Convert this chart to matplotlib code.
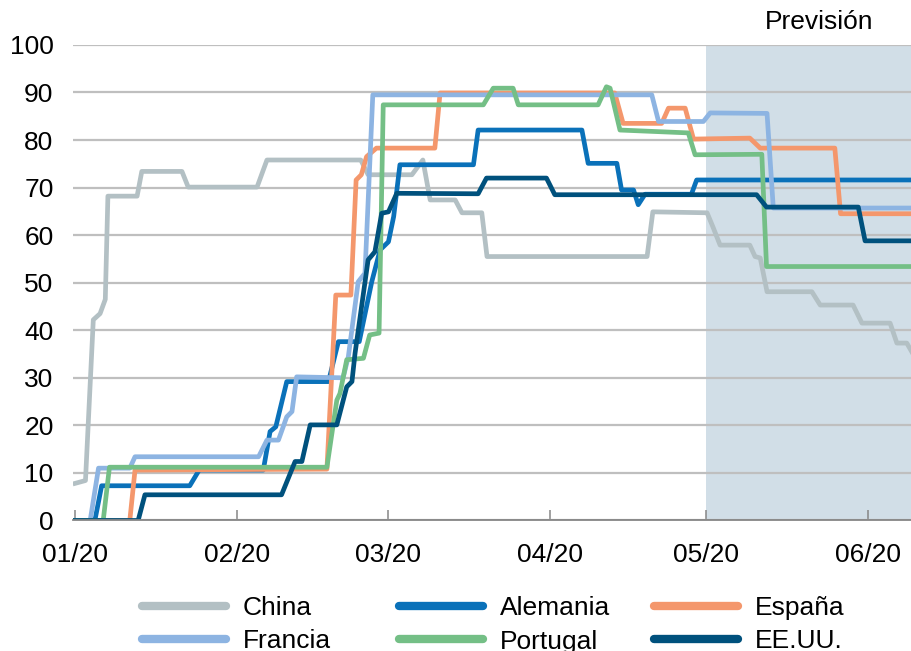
import matplotlib
matplotlib.use("Agg")
import matplotlib.pyplot as plt

plt.rcParams['font.family'] = ['Liberation Sans', 'DejaVu Sans']

# days since 01/01/2020 and index values
china_d = [0, 2, 3.5, 4.8, 5.8, 6.3, 11.9, 12.8, 20.5, 21.7, 34.9, 36.8, 54.8, 56.2, 64.6, 66.7, 68.1,
           72.9, 74.2, 78, 79, 109.7, 110.8, 121.2, 122.3, 123.7, 129.4, 130.4, 131.4, 132.7, 141.3,
           142.9, 149.2, 150.9, 156.3, 157.6, 159.5, 160.6]
china_v = [7.8, 8.4, 42.2, 43.5, 46.5, 68.2, 68.2, 73.4, 73.4, 70.1, 70.1, 75.8, 75.8, 72.7, 72.7, 75.8, 67.4,
           67.4, 64.7, 64.7, 55.5, 55.5, 64.9, 64.7, 61.8, 57.9, 57.9, 55.5, 55.2, 48.1, 48.1,
           45.3, 45.3, 41.5, 41.5, 37.3, 37.3, 35.2]

francia_d = [0, 2.9, 4.5, 10.5, 11.5, 35.2, 36.8, 39, 40.6, 41.6, 42.5, 51.4, 52.4, 54.3, 55.6, 57.1,
             110.6, 111.9, 120.5, 121.8, 132.7, 133.9, 160.6]
francia_v = [0, 0, 11, 11, 13.4, 13.4, 16.9, 16.9, 21.8, 22.9, 30.2, 30, 34.4, 50.2, 52, 89.5,
             89.5, 83.9, 83.9, 85.7, 85.6, 65.7, 65.7]

alemania_d = [0, 3.8, 5.1, 22, 23.8, 36.1, 37.4, 38.5, 40.6, 48.6, 50.5, 54.5, 56.9, 58.5, 60.1, 61.1, 62.3,
              76.4, 77.3, 97.2, 98.4, 103.9, 104.8, 107.1, 108, 109.3, 118.2, 119.2, 160.6]
alemania_v = [0, 0, 7.3, 7.3, 10.6, 10.6, 18.7, 19.7, 29.2, 29.2, 37.6, 37.6, 50.2, 56.9, 58.6, 63.9, 74.8,
              74.8, 82.1, 82.1, 75.1, 75.1, 69.5, 69.5, 66.4, 68.6, 68.6, 71.6, 71.6]

espana_d = [0, 10.5, 11.5, 48.3, 50, 52.9, 53.9, 54.9, 55.9, 57.8, 69, 70, 103.5, 105.1, 112.5, 113.8,
            117, 118.6, 129.4, 131.4, 145.7, 146.8, 160.6]
espana_v = [0, 0, 10.6, 10.8, 47.4, 47.4, 71.6, 72.7, 76.5, 78.3, 78.3, 89.9, 89.9, 83.5, 83.5, 86.7,
            86.7, 80.2, 80.4, 78.3, 78.3, 64.5, 64.5]

portugal_d = [0, 5.4, 6.6, 48.3, 50.2, 50.8, 52.1, 55.3, 56.5, 58.3, 59.1, 78.3, 80.2, 84, 85,
              100.3, 101.9, 102.6, 104.5, 117.6, 118.9, 131.7, 132.6, 160.6]
portugal_v = [0, 0, 11.2, 11.2, 25.3, 26.7, 33.8, 34.1, 39, 39.4, 87.4, 87.4, 90.9, 90.9, 87.4,
              87.4, 91.2, 90.9, 82.1, 81.5, 76.9, 77, 53.4, 53.4]

eeuu_d = [0, 12.1, 13.4, 39.6, 42.2, 43.5, 45.1, 50.2, 52.1, 53.1, 53.7, 56.2, 57.5, 58.8, 60.1, 61.7,
          77.3, 78.9, 90.4, 92, 130.7, 132.6, 150.2, 151.5, 160.6]
eeuu_v = [0, 0, 5.4, 5.4, 12.4, 12.4, 20.1, 20.1, 28.1, 29.2, 35.2, 54.8, 56.5, 64.6, 64.9, 68.8,
          68.7, 72, 72, 68.5, 68.5, 65.9, 65.9, 58.8, 58.8]

tick_days = [0, 31, 60, 91, 121, 152]
tick_labels = ['01/20', '02/20', '03/20', '04/20', '05/20', '06/20']
forecast_start = 121

fig = plt.figure(figsize=(9.12, 6.51), dpi=100)
ax = fig.add_axes([0.080, 0.2005, 0.920, 0.7305])

ax.axvspan(forecast_start, 170, color='#d1dee7', zorder=0, lw=0)

lw = 3.4
kw = dict(lw=lw, solid_joinstyle='round')
l_china, = ax.plot(china_d, china_v, color='#b3c0c4', label='China', **kw)
l_ale, = ax.plot(alemania_d, alemania_v, color='#0a71b9', label='Alemania', **kw)
l_esp, = ax.plot(espana_d, espana_v, color='#f4976c', label='España', **kw)
l_fra, = ax.plot(francia_d, francia_v, color='#8db4e2', label='Francia', **kw)
l_por, = ax.plot(portugal_d, portugal_v, color='#74bf86', label='Portugal', **kw)
l_usa, = ax.plot(eeuu_d, eeuu_v, color='#00517d', label='EE.UU.', **kw)

ax.set_xlim(-0.4, 160.5)
ax.set_ylim(0, 100)
ax.set_yticks(range(0, 101, 10))
ax.set_xticks(tick_days)
ax.set_xticklabels(tick_labels)
ax.set_axisbelow(True)
ax.yaxis.grid(True, color='#bfbfbf', lw=1.6)

for s in ['top', 'right', 'left']:
    ax.spines[s].set_visible(False)
ax.spines['bottom'].set_color('#868686')
ax.spines['bottom'].set_linewidth(1.3)
ax.spines['bottom'].set_zorder(5)

ax.tick_params(axis='x', direction='in', length=7, width=1.1, color='#868686',
               labelsize=19, pad=16)
ax.tick_params(axis='y', length=0, labelsize=19, pad=14)

fig.text(819.5 / 912, 1 - 22 / 651, 'Previsión', ha='center', va='center', fontsize=19)

# legend: three columns, two rows
cols = [(l_china, l_fra), (l_ale, l_por), (l_esp, l_usa)]
col_x = [142, 399, 654]
for (a, b), x0 in zip(cols, col_x):
    leg = fig.legend([a, b], [a.get_label(), b.get_label()], loc='upper left',
                     bbox_to_anchor=(x0 / 912, 1 - 596 / 651), frameon=False, fontsize=19,
                     handlelength=3.2, handletextpad=0.62, labelspacing=0.36,
                     borderpad=0, borderaxespad=0)
    for l in leg.get_lines():
        l.set_linewidth(6)
        l.set_solid_capstyle('round')

fig.savefig('out.png', dpi=100)
